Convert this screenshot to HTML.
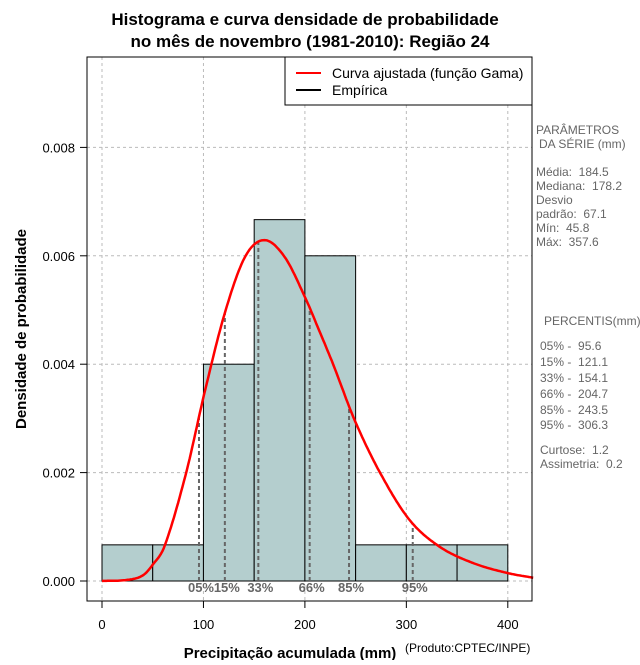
<!DOCTYPE html>
<html><head><meta charset="utf-8"><style>
html,body{margin:0;padding:0;background:#fff;}
svg text{font-family:"Liberation Sans",sans-serif;white-space:pre;}
</style></head><body>
<svg id="chart" width="640" height="660" xmlns="http://www.w3.org/2000/svg">
<text x="305" y="25" text-anchor="middle" font-size="17" font-weight="bold">Histograma e curva densidade de probabilidade</text>
<text x="310" y="47" text-anchor="middle" font-size="17" font-weight="bold">no mês de novembro (1981-2010): Região 24</text>
<g id="grid"></g>
<g id="bars"></g>
<g id="pct"></g>
<g id="curve"></g>
<g id="axes"></g>
<rect x="87" y="57" width="445" height="544" fill="none" stroke="#000"/>
<g>
<rect x="285" y="57" width="247" height="48" fill="#fff" stroke="#000"/>
<line x1="296" y1="73" x2="321" y2="73" stroke="#f00" stroke-width="2"/>
<text x="332" y="78" font-size="14">Curva ajustada (função Gama)</text>
<line x1="296" y1="90" x2="321" y2="90" stroke="#000" stroke-width="2"/>
<text x="332" y="95" font-size="14">Empírica</text>
</g>
<g font-size="12" fill="#666">
<text x="536" y="134">PARÂMETROS</text>
<text x="539" y="148">DA SÉRIE (mm)</text>
<text x="536" y="176">Média:  184.5</text>
<text x="536" y="190">Mediana:  178.2</text>
<text x="536" y="204">Desvio</text>
<text x="536" y="218">padrão:  67.1</text>
<text x="536" y="232">Mín:  45.8</text>
<text x="536" y="246">Máx:  357.6</text>
<text x="544" y="325">PERCENTIS(mm)</text>
<text x="540" y="350">05% -  95.6</text>
<text x="540" y="366">15% -  121.1</text>
<text x="540" y="382">33% -  154.1</text>
<text x="540" y="398">66% -  204.7</text>
<text x="540" y="414">85% -  243.5</text>
<text x="540" y="429">95% -  306.3</text>
<text x="540" y="454">Curtose:  1.2</text>
<text x="540" y="468">Assimetria:  0.2</text>
</g>
<text x="290" y="658" text-anchor="middle" font-size="15" font-weight="bold">Precipitação acumulada (mm)</text>
<text x="405" y="652" font-size="12">(Produto:CPTEC/INPE)</text>
<text transform="translate(26,329) rotate(-90)" text-anchor="middle" font-size="15" font-weight="bold">Densidade de probabilidade</text>
</svg>
<script>
const binStarts=[0,50,100,150,200,250,300,350];
const binDensity=[0.000667,0.000667,0.004,0.006667,0.006,0.000667,0.000667,0.000667];
const xTicks=[0,100,200,300,400];
const yTicks=[0,0.002,0.004,0.006,0.008];
const yTickLabels=["0.000","0.002","0.004","0.006","0.008"];
const curveX=[0,25,40,50,62,83,101,121,141,160,180,200,215,228,249,274,303,333,366,399,425];
const curveY=[0,0.00002,0.0001,0.0003,0.00066,0.002,0.00347,0.00494,0.00598,0.00629,0.00598,0.00524,0.00458,0.00399,0.00297,0.002,0.00113,0.00063,0.00033,0.00015,0.00006];
const pctValues=[95.6,121.1,154.1,204.7,243.5,306.3];
const pctLabels=["05%","15%","33%","66%","85%","95%"];
const binWidth=50;
const NS="http://www.w3.org/2000/svg";
function sx(v){return 102+v*1.0145;}
function sy(v){return 581-v*54200;}
function mk(tag,attrs,parent,txt){const e=document.createElementNS(NS,tag);for(const k in attrs)e.setAttribute(k,attrs[k]);if(txt!==undefined)e.textContent=txt;document.getElementById(parent).appendChild(e);return e;}
// Catmull-Rom evaluation through data points
function crAt(x){
 const n=curveX.length;
 for(let i=0;i<n-1;i++){
  if(x>=curveX[i]&&x<=curveX[i+1]){
   const x0=curveX[i],x1=curveX[i+1],h=x1-x0,t=(x-x0)/h;
   const y0=curveY[i],y1=curveY[i+1];
   const m0=i>0?(curveY[i+1]-curveY[i-1])/(curveX[i+1]-curveX[i-1]):(y1-y0)/h;
   const m1=i<n-2?(curveY[i+2]-curveY[i])/(curveX[i+2]-curveX[i]):(y1-y0)/h;
   const t2=t*t,t3=t2*t;
   return (2*t3-3*t2+1)*y0+(t3-2*t2+t)*h*m0+(-2*t3+3*t2)*y1+(t3-t2)*h*m1;
  }
 }
 return 0;
}
xTicks.forEach((t,i)=>{
 const g=mk('line',{x1:sx(t),x2:sx(t),y1:57,y2:601,stroke:'#bbb','stroke-dasharray':'3,3'},'grid');
 
 
 const tk=mk('line',{x1:sx(t),x2:sx(t),y1:601,y2:608,stroke:'#000'},'axes');
 
 
 const lb=mk('text',{x:sx(t),y:629,'text-anchor':'middle','font-size':'13'},'axes',String(t));
 
 
});
yTicks.forEach((t,i)=>{
 const g=mk('line',{x1:87,x2:532,y1:sy(t),y2:sy(t),stroke:'#bbb','stroke-dasharray':'3,3'},'grid');
 
 
 const tk=mk('line',{x1:80,x2:87,y1:sy(t),y2:sy(t),stroke:'#000'},'axes');
 
 
 const lb=mk('text',{x:75,y:sy(t)+5,'text-anchor':'end','font-size':'13'},'axes',yTickLabels[i]);
 
 
});
binStarts.forEach((b,i)=>{
 const r=mk('rect',{x:sx(b),y:sy(binDensity[i]),width:sx(b+binWidth)-sx(b),height:sy(0)-sy(binDensity[i]),fill:'#b4cece',stroke:'#000','stroke-width':'1'},'bars');
 
 
});
pctValues.forEach((p,i)=>{
 const l=mk('line',{x1:sx(p),x2:sx(p),y1:sy(0),y2:sy(crAt(p)),stroke:'#666','stroke-width':'2','stroke-dasharray':'4,3'},'pct');
 
 
 const t=mk('text',{x:sx(p)+2,y:592,'text-anchor':'middle','font-size':'13','font-weight':'bold',fill:'#666'},'pct',pctLabels[i]);
 
 
});
let d='';
const xmin=curveX[0],xmax=curveX[curveX.length-1];
for(let k=0;k<=300;k++){
 const x=xmin+(xmax-xmin)*k/300;
 d+=(k?'L':'M')+sx(x).toFixed(1)+','+sy(Math.max(0,crAt(x))).toFixed(1);
}
const p=mk('path',{d:d,fill:'none',stroke:'#f00','stroke-width':'2.5','stroke-linejoin':'round'},'curve');


</script>
</body></html>
